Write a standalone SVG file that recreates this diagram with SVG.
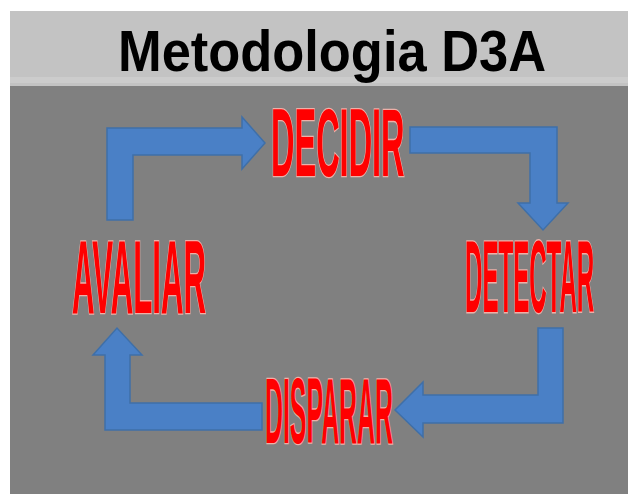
<svg xmlns="http://www.w3.org/2000/svg" width="628" height="494" viewBox="0 0 628 494">
  <defs>
    <style>
      .arrow { fill: #4a80c6; stroke: #3f6fa8; stroke-width: 1.5; stroke-linejoin: miter; }
      .lbl { font-family: "Liberation Sans", Arial, sans-serif; font-weight: bold; fill: #ff0000; stroke: #eeb0a8; stroke-width: 2; paint-order: stroke; vector-effect: non-scaling-stroke; }
      .title { font-family: "Liberation Sans", Arial, sans-serif; font-weight: bold; fill: #000000; }
    </style>
  </defs>
  <rect x="0" y="0" width="628" height="494" fill="#ffffff"/>
  <rect x="10" y="11" width="618" height="483" fill="#808080"/>
  <rect x="10" y="11" width="618" height="75" fill="#c3c3c3"/>
  <rect x="10" y="77" width="618" height="6" fill="#cccccc"/>
  <text class="title" x="118" y="71" font-size="57" textLength="428" lengthAdjust="spacingAndGlyphs">Metodologia D3A</text>

  <g id="connectors">
    <path class="arrow" d="M107,220 L107,128 L242,128 L242,117 L265,143 L242,169 L242,155 L133,155 L133,220 Z"/>
    <path class="arrow" d="M410,127 L557,127 L557,203 L568,203 L543,230 L518,203 L530,203 L530,153 L410,153 Z"/>
    <path class="arrow" d="M563,328 L563,423 L423,423 L423,437 L395,410 L423,382 L423,395 L538,395 L538,328 Z"/>
    <path class="arrow" d="M262,403 L262,430 L105,430 L105,355 L93,355 L117,328 L142,355 L130,355 L130,403 Z"/>
  </g>

  <g id="decidir">
    <text class="lbl" transform="translate(271,176) scale(0.335,1)" x="0" y="0" font-size="97">DECIDIR</text>
  </g>
  <g id="detectar">
    <text class="lbl" transform="translate(465,312) scale(0.236,1)" x="0" y="0" font-size="102">DETECTAR</text>
  </g>
  <g id="disparar">
    <text class="lbl" transform="translate(265,443) scale(0.27,1)" x="0" y="0" font-size="92">DISPARAR</text>
  </g>
  <g id="avaliar">
    <text class="lbl" transform="translate(72,313) scale(0.30,1)" x="0" y="0" font-size="104">AVALIAR</text>
  </g>
</svg>
